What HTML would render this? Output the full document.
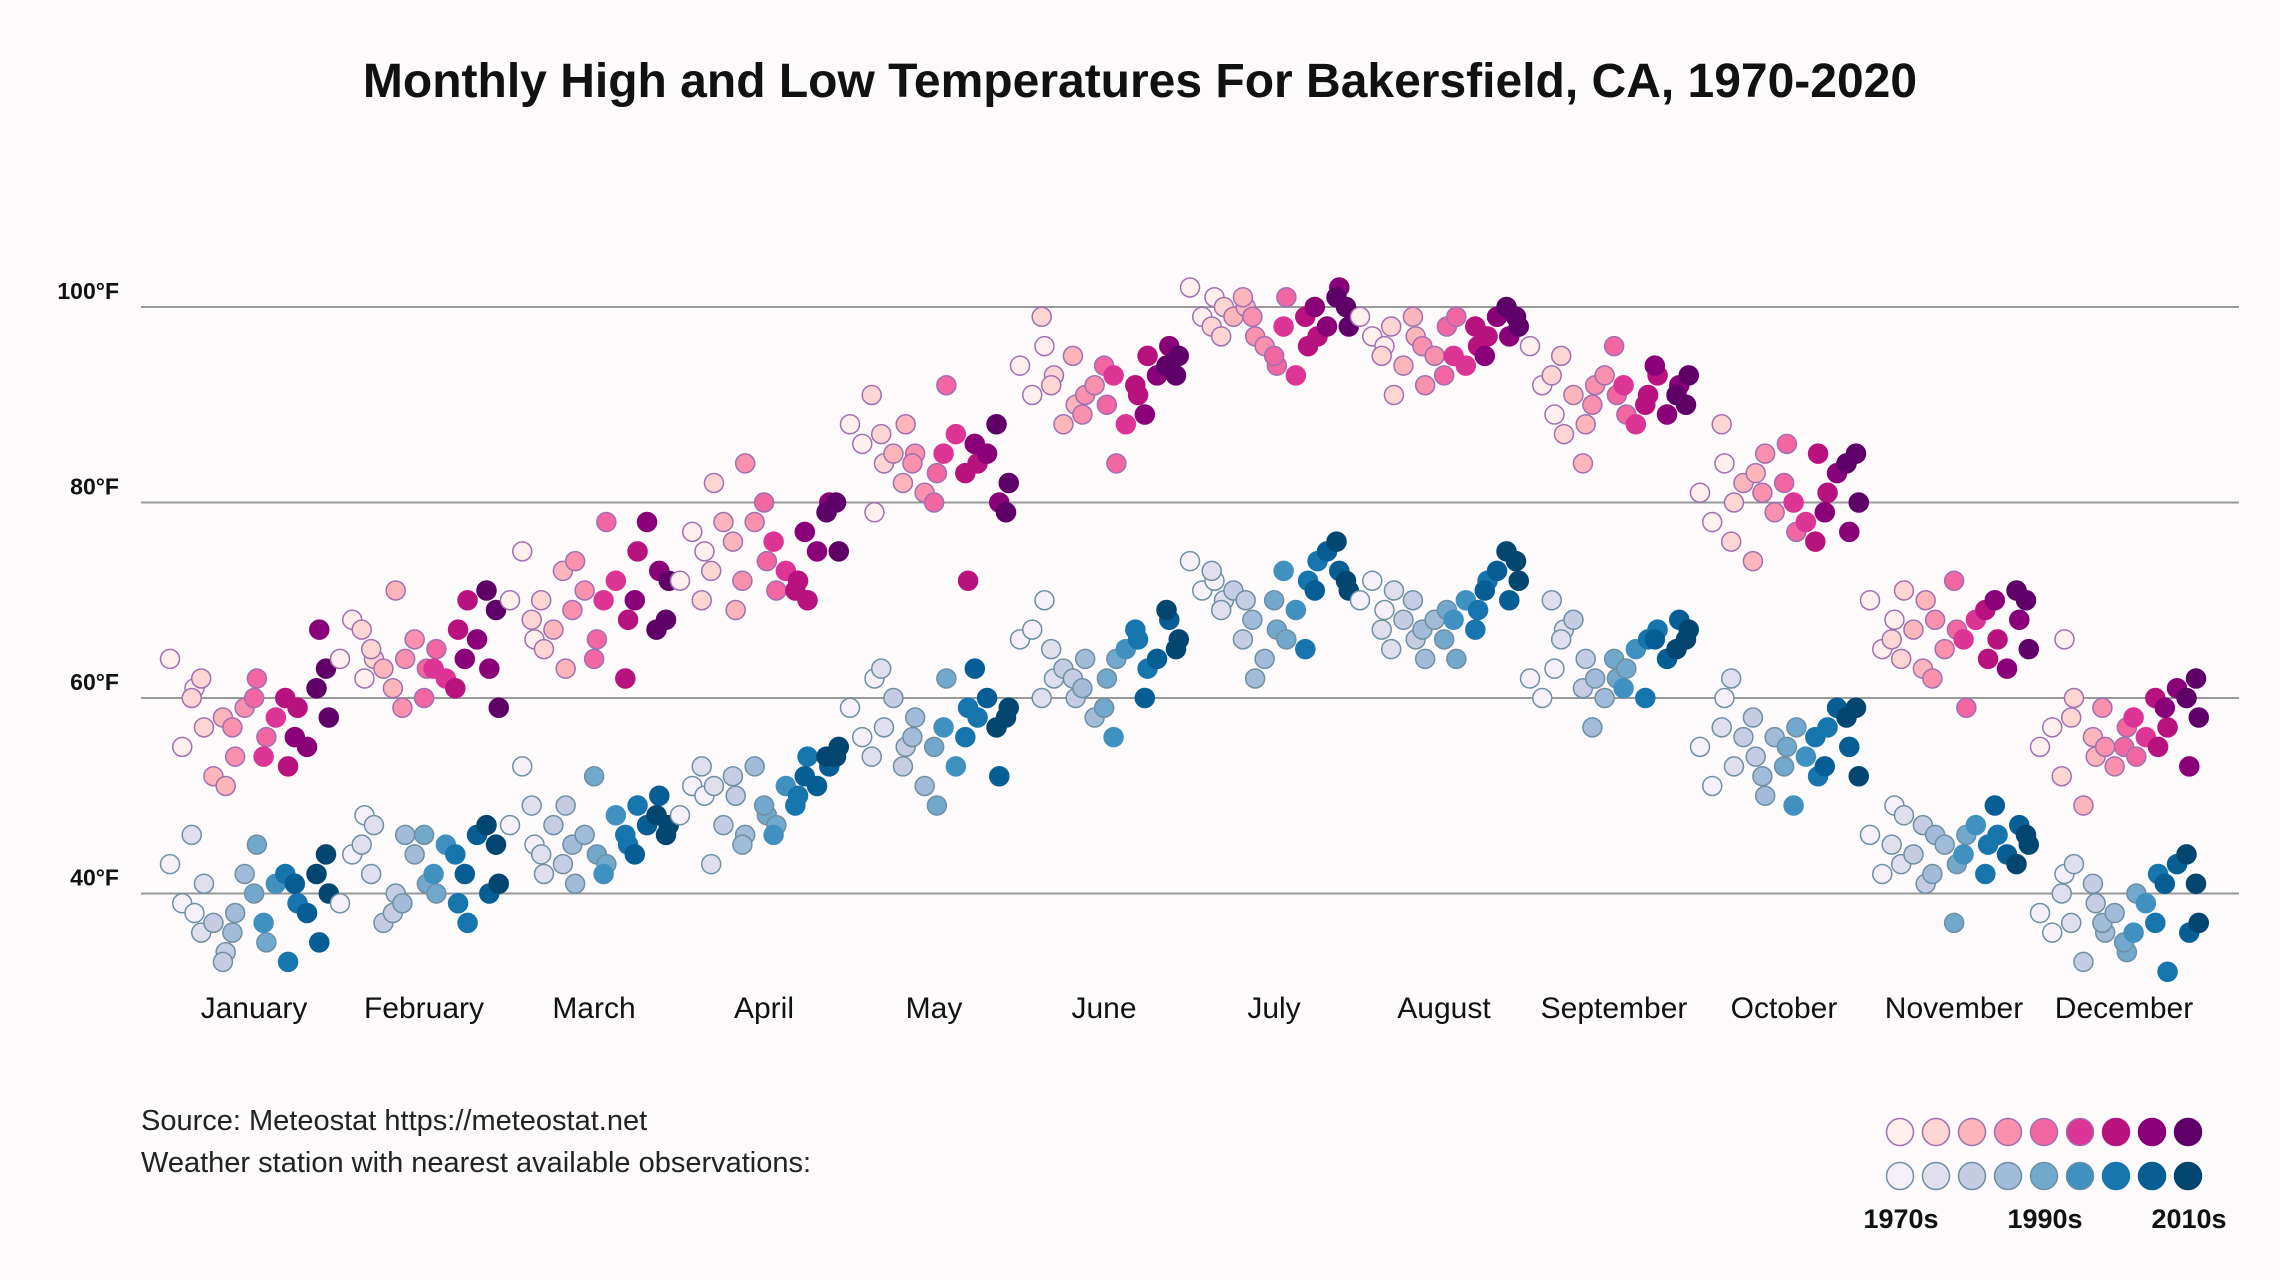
<!DOCTYPE html>
<html><head><meta charset="utf-8"><style>
html,body{margin:0;padding:0;background:#fdfafc;}
svg{display:block;font-family:"Liberation Sans",sans-serif;}
</style></head><body>
<svg id="chart" width="2280" height="1280" viewBox="0 0 2280 1280">
<rect width="2280" height="1280" fill="#fdfafc"/>
<text x="1140" y="97" text-anchor="middle" font-size="48" font-weight="bold" fill="#111">Monthly High and Low Temperatures For Bakersfield, CA, 1970-2020</text>
<g id="grid"></g>
<g id="pts"></g>
<g id="months"></g>
<text x="141" y="1130" font-size="29" fill="#222">Source: Meteostat https://meteostat.net</text>
<text x="141" y="1172" font-size="29" fill="#222">Weather station with nearest available observations:</text>
<g id="legend"></g>
</svg>
<script>
const months=["January","February","March","April","May","June","July","August","September","October","November","December"];
const yTicks=[100,80,60,40];
const tickLabels=["100°F","80°F","60°F","40°F"];
const years=[1970,1972,1974,1976,1978,1980,1982,1984,1986,1988,1990,1992,1994,1996,1998,2000,2002,2004,2006,2008,2010,2012,2014,2016,2018,2020];
const highs=[
[64,55,61,60,57,62,52,51,58,54,57,59,62,60,56,54,58,53,60,59,56,55,67,61,58,63],
[64,68,62,67,64,65,63,71,61,64,59,66,63,60,65,63,62,67,61,70,64,66,63,71,59,69],
[70,75,66,68,65,70,67,63,73,74,69,71,66,64,78,70,72,68,62,75,70,78,73,67,72,68],
[72,77,75,70,82,73,78,69,76,84,72,78,74,80,71,76,73,72,71,70,77,75,80,79,75,80],
[88,86,79,91,84,87,85,88,82,85,84,81,83,80,92,85,87,72,83,84,86,85,80,88,82,79],
[94,91,96,99,93,92,88,90,95,91,89,92,90,94,84,93,88,91,92,95,89,93,96,94,95,93],
[102,99,101,98,100,97,99,100,101,97,99,96,94,95,101,98,93,96,99,97,100,98,102,101,98,100],
[99,97,96,95,91,98,94,97,99,92,96,95,98,93,99,95,94,96,98,97,95,99,97,100,98,99],
[96,92,89,93,87,95,91,88,84,92,90,93,91,96,89,92,88,91,90,93,94,89,92,91,93,90],
[81,78,84,88,80,76,82,83,74,85,81,79,86,82,77,80,78,85,76,81,79,83,77,84,80,85],
[70,65,68,66,71,64,67,70,63,68,62,65,67,72,59,66,68,64,69,66,70,63,68,71,65,70],
[55,57,66,52,60,58,49,54,56,55,59,53,57,55,54,58,56,55,60,57,59,61,53,60,58,62]];
const lows=[
[43,39,38,46,41,36,37,34,33,38,36,42,45,40,35,37,41,33,42,39,41,38,35,42,40,44],
[39,44,48,45,47,42,37,40,38,46,39,44,41,46,40,42,45,39,44,37,42,46,40,47,41,45],
[47,53,45,49,42,44,47,49,43,41,45,46,44,52,43,42,48,45,46,49,44,47,50,48,47,46],
[48,51,50,53,51,43,47,50,52,46,45,53,48,49,47,46,51,50,49,54,52,51,53,54,55,54],
[59,56,62,54,57,63,60,55,53,58,56,51,49,55,62,57,53,59,56,58,63,60,52,57,59,58],
[66,67,70,60,62,65,63,60,62,64,61,58,62,59,64,56,65,66,67,63,60,64,68,69,66,65],
[74,71,72,73,70,69,71,70,66,62,68,64,67,70,66,73,69,72,65,74,71,75,73,76,71,72],
[70,72,69,67,71,65,68,66,70,64,67,68,69,66,64,68,70,69,67,72,71,73,70,75,72,74],
[62,60,63,70,67,66,68,64,61,62,57,60,62,64,63,61,65,66,60,67,66,64,68,65,67,66],
[55,51,60,57,53,62,56,54,58,50,52,56,55,53,57,49,54,52,56,57,53,59,55,58,52,59],
[46,42,49,45,48,43,44,41,47,46,42,45,43,37,46,44,47,45,42,46,49,44,47,43,45,46],
[38,36,42,40,43,37,33,39,41,36,37,38,34,35,40,36,39,42,37,32,41,43,36,44,37,41]];
const hiColors=["#fff0ee","#fdd6d3","#fbb5bb","#f890ae","#f266a1","#dc3596","#b7127d","#890079","#5e0068"];
const loColors=["#f6f1f8","#e0dfee","#c5cce3","#a1bbd9","#73a8cd","#4191c0","#1775ae","#065e94","#034670"];
const NS="http://www.w3.org/2000/svg";
function yScale(t){return 307+(100-t)*9.775;}
function monthX(m){return 254+m*170;}
function yearX(m,yr,i){return monthX(m)-78+(yr-1970)/50*156+(((i*7)%5)-2)*3;}
function colorIdx(yr){return Math.min(8,Math.floor((yr-1970)/51*9));}
const grid=document.getElementById('grid');
yTicks.forEach((t,i)=>{
  const l=document.createElementNS(NS,'line');
  l.setAttribute('x1',141);l.setAttribute('x2',2239);
  l.setAttribute('y1',yScale(t));l.setAttribute('y2',yScale(t));
  l.setAttribute('stroke','#999');l.setAttribute('stroke-width',2);
  
  
  grid.appendChild(l);
  const tx=document.createElementNS(NS,'text');
  tx.setAttribute('x',119);tx.setAttribute('y',yScale(t)-8);
  tx.setAttribute('text-anchor','end');tx.setAttribute('font-size',23);tx.setAttribute('font-weight','bold');
  tx.setAttribute('fill','#111');
  tx.textContent=tickLabels[i];
  
  
  grid.appendChild(tx);
});
const mg=document.getElementById('months');
months.forEach((m,i)=>{
  const tx=document.createElementNS(NS,'text');
  tx.setAttribute('x',monthX(i));tx.setAttribute('y',1018);
  tx.setAttribute('text-anchor','middle');tx.setAttribute('font-size',30);tx.setAttribute('fill','#111');
  tx.textContent=m;
  
  
  mg.appendChild(tx);
});
const pts=document.getElementById('pts');
function dot(g,x,y,fill,stroke,name){
  const c=document.createElementNS(NS,'circle');
  c.setAttribute('cx',x);c.setAttribute('cy',y);c.setAttribute('r',9.5);
  c.setAttribute('fill',fill);c.setAttribute('stroke',stroke);c.setAttribute('stroke-width',1.5);
  
  
  g.appendChild(c);
}
for(let m=0;m<12;m++){
  years.forEach((yr,i)=>{
    const ci=colorIdx(yr);
    const x=yearX(m,yr,i);
    dot(pts,x,yScale(lows[m][i]),loColors[ci],ci<5?"#6f8fa3":loColors[ci],'low-point');
    dot(pts,x,yScale(highs[m][i]),hiColors[ci],ci<5?"#a070b0":hiColors[ci],'high-point');
  });
}
const lg=document.getElementById('legend');
for(let k=0;k<9;k++){
  const x=1900+k*36;
  const c1=document.createElementNS(NS,'circle');
  c1.setAttribute('cx',x);c1.setAttribute('cy',1132);c1.setAttribute('r',13.5);
  c1.setAttribute('fill',hiColors[k]);c1.setAttribute('stroke',k<6?"#a070b0":hiColors[k]);c1.setAttribute('stroke-width',1.5);
  
  
  lg.appendChild(c1);
  const c2=document.createElementNS(NS,'circle');
  c2.setAttribute('cx',x);c2.setAttribute('cy',1176);c2.setAttribute('r',13.5);
  c2.setAttribute('fill',loColors[k]);c2.setAttribute('stroke',k<6?"#6f8fa3":loColors[k]);c2.setAttribute('stroke-width',1.5);
  
  
  lg.appendChild(c2);
}
const legendLabels=["1970s","1990s","2010s"];
legendLabels.forEach((s,i)=>{
  const tx=document.createElementNS(NS,'text');
  tx.setAttribute('x',1901+i*144);tx.setAttribute('y',1228);
  tx.setAttribute('text-anchor','middle');tx.setAttribute('font-size',27);tx.setAttribute('font-weight','bold');
  tx.setAttribute('fill','#111');
  tx.textContent=s;
  
  
  lg.appendChild(tx);
});
</script>
</body></html>
